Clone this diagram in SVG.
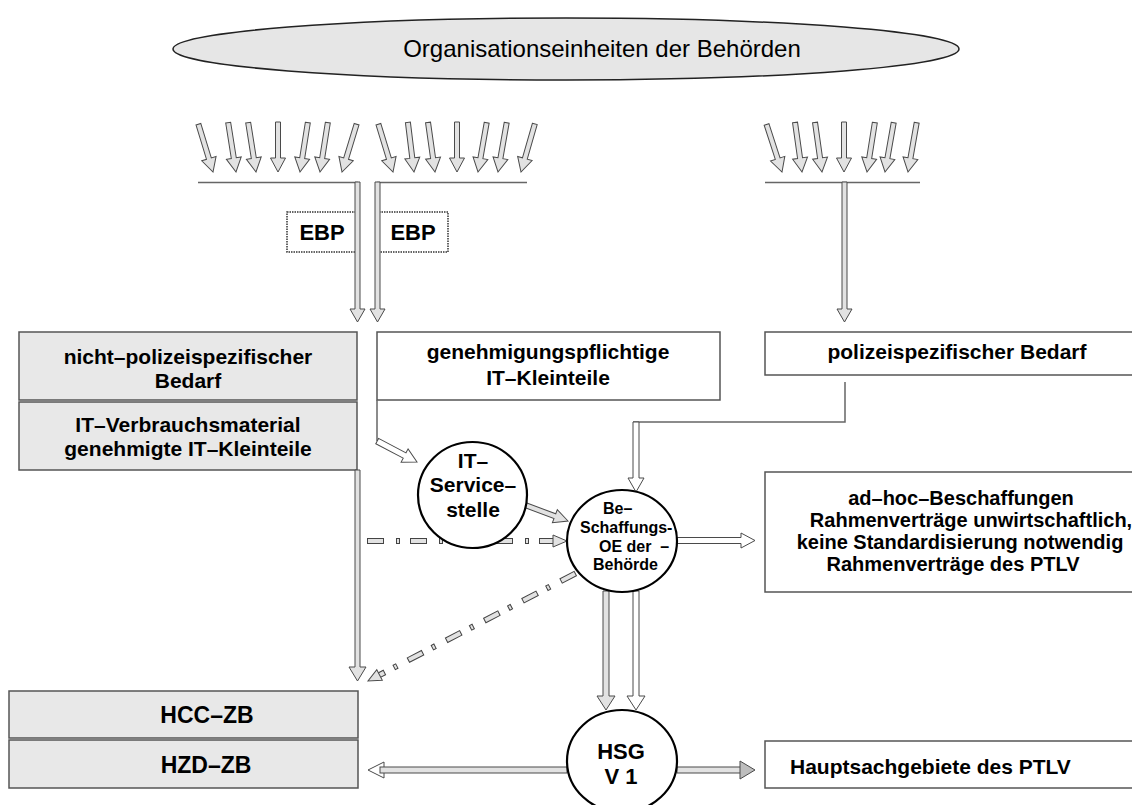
<svg xmlns="http://www.w3.org/2000/svg" xmlns:xlink="http://www.w3.org/1999/xlink" width="1132" height="805" viewBox="0 0 1132 805">
  <style>
    text { font-family: "Liberation Sans", Arial, sans-serif; fill: #000; }
    .b { font-weight: bold; }
    .c { text-anchor: middle; }
    .box { stroke: #555; stroke-width: 1.5; }
    .grey { fill: #e8e8e8; }
    .white { fill: #fff; }
    .circ { fill: #fff; stroke: #000; stroke-width: 2.2; }
    .arr { stroke: #4a4a4a; stroke-width: 1; stroke-linejoin: miter; }
    .af { fill: #e2e2e2; }
    .aw { fill: #fff; }
    .ad { fill: #bdbdbd; }
    .rule { stroke: #666; stroke-width: 1.5; fill: none; }
    .ebp { fill: #fff; stroke: #333; stroke-width: 1.5; stroke-dasharray: 1.5 1; }
    .dd-out { fill: none; stroke: #444; stroke-width: 6; stroke-dasharray: 17 12 4 10; }
    .dd-in { fill: none; stroke: #e2e2e2; stroke-width: 4; stroke-dasharray: 15 14 2 12; stroke-dashoffset: -1; }
  </style>
  <defs>
    <!-- small incoming arrow, pointing down, tip at origin -->
    <path id="sm" class="arr af" d="M-2.5,-50 H2.5 V-14 H7.5 L0,0 L-7.5,-14 H-2.5 Z"/>
  </defs>

  <rect width="1132" height="805" fill="#fff"/>

  <!-- top ellipse -->
  <g id="organisationseinheiten">
    <ellipse cx="566" cy="49" rx="393" ry="31" fill="#e6e6e6" stroke="#222" stroke-width="1.5"/>
    <text x="602" y="57" font-size="24" class="c">Organisationseinheiten der Behörden</text>
  </g>

  <!-- incoming demand arrows -->
  <g id="incoming">
    <use xlink:href="#sm" transform="translate(213,172) rotate(-17)"/>
    <use xlink:href="#sm" transform="translate(236,172) rotate(-9)"/>
    <use xlink:href="#sm" transform="translate(256,172) rotate(-9)"/>
    <use xlink:href="#sm" transform="translate(278,172)"/>
    <use xlink:href="#sm" transform="translate(300,172) rotate(9)"/>
    <use xlink:href="#sm" transform="translate(320,172) rotate(9)"/>
    <use xlink:href="#sm" transform="translate(342,172) rotate(17)"/>

    <use xlink:href="#sm" transform="translate(393,172) rotate(-17)"/>
    <use xlink:href="#sm" transform="translate(414,172) rotate(-7)"/>
    <use xlink:href="#sm" transform="translate(435,172) rotate(-8)"/>
    <use xlink:href="#sm" transform="translate(457,172)"/>
    <use xlink:href="#sm" transform="translate(478,172) rotate(10)"/>
    <use xlink:href="#sm" transform="translate(498,172) rotate(10)"/>
    <use xlink:href="#sm" transform="translate(521,172) rotate(16)"/>

    <use xlink:href="#sm" transform="translate(782,172) rotate(-18)"/>
    <use xlink:href="#sm" transform="translate(802,172) rotate(-8)"/>
    <use xlink:href="#sm" transform="translate(822,172) rotate(-8)"/>
    <use xlink:href="#sm" transform="translate(844,172)"/>
    <use xlink:href="#sm" transform="translate(867,172) rotate(9)"/>
    <use xlink:href="#sm" transform="translate(885,172) rotate(10)"/>
    <use xlink:href="#sm" transform="translate(908,172) rotate(10)"/>

    <line class="rule" x1="198" y1="182.5" x2="358" y2="182.5"/>
    <line class="rule" x1="377" y1="182.5" x2="527" y2="182.5"/>
    <line class="rule" x1="765" y1="182.5" x2="920" y2="182.5"/>
  </g>

  <!-- EBP labels -->
  <g id="ebp-left">
    <rect class="ebp" x="287" y="212" width="69" height="40"/>
    <text x="322" y="240" font-size="22" class="b c">EBP</text>
  </g>
  <g id="ebp-right">
    <rect class="ebp" x="379" y="212" width="69" height="40"/>
    <text x="413" y="240" font-size="22" class="b c">EBP</text>
  </g>

  <!-- boxes -->
  <g id="nicht-polizeispezifisch">
    <rect class="box grey" x="19" y="332" width="338" height="68"/>
    <text x="188" y="364" font-size="21" class="b c">nicht–polizeispezifischer</text>
    <text x="188" y="388" font-size="21" class="b c">Bedarf</text>
  </g>
  <g id="it-verbrauch">
    <rect class="box grey" x="19" y="402" width="338" height="68"/>
    <text x="188" y="432" font-size="21" class="b c">IT–Verbrauchsmaterial</text>
    <text x="188" y="456" font-size="21" class="b c">genehmigte IT–Kleinteile</text>
  </g>
  <g id="genehmigungspflichtig">
    <rect class="box white" x="377" y="332" width="343" height="68"/>
    <text x="548" y="359" font-size="21" class="b c">genehmigungspflichtige</text>
    <text x="548" y="385" font-size="21" class="b c">IT–Kleinteile</text>
  </g>
  <g id="polizeispezifisch">
    <rect class="box white" x="765" y="332" width="385" height="43"/>
    <text x="957" y="359" font-size="21" class="b c">polizeispezifischer Bedarf</text>
  </g>
  <g id="ad-hoc">
    <rect class="box white" x="765" y="472" width="385" height="120"/>
    <text x="961" y="505" font-size="20" class="b c">ad–hoc–Beschaffungen</text>
    <text x="971" y="527" font-size="20" class="b c">Rahmenverträge unwirtschaftlich,</text>
    <text x="960" y="549" font-size="20" class="b c">keine Standardisierung notwendig</text>
    <text x="953" y="571" font-size="20" class="b c">Rahmenverträge des PTLV</text>
  </g>
  <g id="hcc-zb">
    <rect class="box grey" x="9" y="691" width="349" height="47"/>
    <text x="207" y="723" font-size="23" class="b c">HCC–ZB</text>
  </g>
  <g id="hzd-zb">
    <rect class="box grey" x="9" y="740" width="349" height="48"/>
    <text x="206" y="773" font-size="23" class="b c">HZD–ZB</text>
  </g>
  <g id="hauptsachgebiete">
    <rect class="box white" x="765" y="741" width="385" height="47"/>
    <text x="790" y="774" font-size="21" class="b">Hauptsachgebiete des PTLV</text>
  </g>

  <!-- connectors -->
  <g id="connectors">
    <!-- main flows down from the collecting rules -->
    <path class="arr af" d="M355,182 H360 V309 H365 L357.5,322 L350,309 H355 Z"/>
    <path class="arr af" d="M375,182 H380 V309 H385 L377.5,322 L370,309 H375 Z"/>
    <path class="arr af" d="M842,182 H847 V309 H852 L844.5,322 L837,309 H842 Z"/>

    <!-- left column down to HCC-ZB -->
    <path class="arr af" d="M355,470 H360 V667 H366 L357.5,681 L349,667 H355 Z"/>

    <!-- genehmigungspflichtige IT-Kleinteile to IT-Servicestelle -->
    <polyline class="rule" points="377,400 377,441"/>
    <path class="arr aw" transform="translate(417,462) rotate(27.7)" d="M-45,-3 H-14 V-7.5 L0,0 L-14,7.5 V3 H-45 Z"/>

    <!-- polizeispezifischer Bedarf to Beschaffungs-OE -->
    <polyline class="rule" points="845,382 845,422 633,422"/>
    <path class="arr aw" d="M633,422 H639 V478 H644 L636,492 L628,478 H633 Z"/>

    <!-- IT-Servicestelle to Beschaffungs-OE -->
    <path class="arr af" transform="translate(568,521) rotate(20.4)" d="M-54,-2.5 H-14 V-7 L0,0 L-14,7 V2.5 H-54 Z"/>

    <!-- dash-dot flow into Beschaffungs-OE -->
    <line class="dd-out" x1="367" y1="541" x2="556" y2="541"/>
    <line class="dd-in" x1="367" y1="541" x2="556" y2="541"/>
    <path class="arr af" d="M553,535 L567,541 L553,547 Z"/>

    <!-- dash-dot flow back to the central services -->
    <g transform="translate(368,681) rotate(152.6)">
      <line class="dd-out" x1="-234" y1="0" x2="-11" y2="0"/>
      <line class="dd-in" x1="-234" y1="0" x2="-11" y2="0"/>
      <path class="arr af" d="M-13,-6 L0,0 L-13,6 Z"/>
    </g>

    <!-- Beschaffungs-OE to ad-hoc procurement -->
    <path class="arr aw" d="M677,537.5 V543.5 H741 V548 L755,540.5 L741,533 V537.5 Z"/>

    <!-- Beschaffungs-OE to HSG V 1 -->
    <path class="arr af" d="M603,591 H609 V696 H615 L606,710 L597,696 H603 Z"/>
    <path class="arr aw" d="M633,591 H639 V696 H645 L636,710 L627,696 H633 Z"/>

    <!-- HSG V 1 to HZD-ZB -->
    <path class="arr aw" d="M384,762 L368,770 L384,778 Z"/>
    <rect class="arr af" x="380" y="767" width="187" height="6"/>

    <!-- HSG V 1 to Hauptsachgebiete -->
    <rect class="arr af" x="677" y="767" width="66" height="6"/>
    <path class="arr ad" d="M740,761 L755,770 L740,779 Z"/>
  </g>

  <!-- round nodes -->
  <g id="it-servicestelle">
    <ellipse class="circ" cx="472.5" cy="495" rx="54.5" ry="53"/>
    <text x="473" y="468" font-size="21" class="b c">IT–</text>
    <text x="473" y="492" font-size="21" class="b c">Service–</text>
    <text x="473" y="517" font-size="21" class="b c">stelle</text>
  </g>
  <g id="beschaffungs-oe">
    <ellipse class="circ" cx="622" cy="541" rx="55" ry="51"/>
    <text x="603" y="514" font-size="16" class="b">Be–</text>
    <text x="580" y="533" font-size="16" class="b">Schaffungs-</text>
    <text x="599" y="552" font-size="16" class="b" xml:space="preserve">OE der  –</text>
    <text x="593" y="570" font-size="16" class="b">Behörde</text>
  </g>
  <g id="hsg-v1">
    <ellipse class="circ" cx="622" cy="761" rx="55" ry="51"/>
    <text x="621" y="759" font-size="22" class="b c">HSG</text>
    <text x="621" y="784" font-size="22" class="b c">V 1</text>
  </g>
</svg>
